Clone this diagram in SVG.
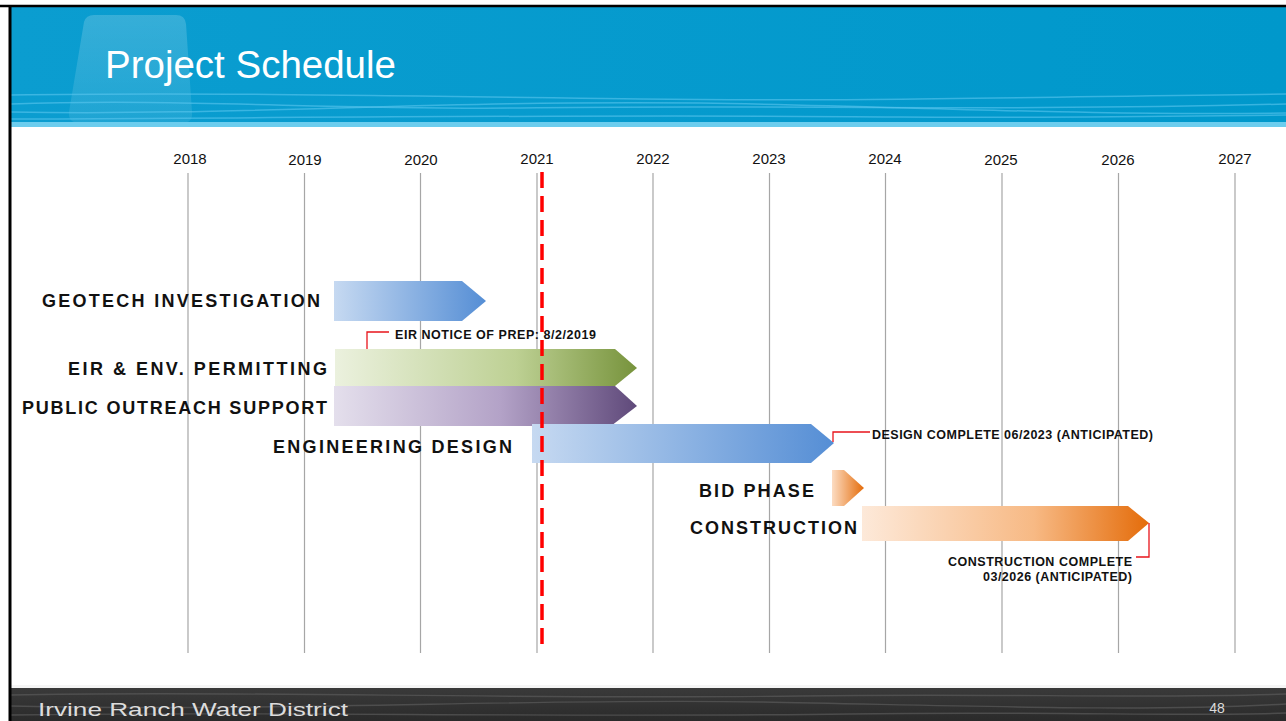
<svg xmlns="http://www.w3.org/2000/svg" width="1286" height="721" viewBox="0 0 1286 721">
  <defs>
    <linearGradient id="hdr" x1="0" y1="0" x2="1" y2="0">
      <stop offset="0" stop-color="#0b9dd0"/>
      <stop offset="1" stop-color="#0098cb"/>
    </linearGradient>
    <linearGradient id="ftr" x1="0" y1="0" x2="0" y2="1">
      <stop offset="0" stop-color="#3a3a3a"/>
      <stop offset="1" stop-color="#2a2a2a"/>
    </linearGradient>
    <linearGradient id="glass" x1="0" y1="0" x2="0" y2="1">
      <stop offset="0" stop-color="#ffffff" stop-opacity="0.18"/>
      <stop offset="1" stop-color="#ffffff" stop-opacity="0.08"/>
    </linearGradient>
    <linearGradient id="gBlue" x1="0" y1="0" x2="1" y2="0">
      <stop offset="0" stop-color="#c6d9f1"/>
      <stop offset="1" stop-color="#558ed5"/>
    </linearGradient>
    <linearGradient id="gGreen" x1="0" y1="0" x2="1" y2="0">
      <stop offset="0" stop-color="#ebf1de"/>
      <stop offset="0.6" stop-color="#bdd093"/>
      <stop offset="1" stop-color="#77933c"/>
    </linearGradient>
    <linearGradient id="gPurple" x1="0" y1="0" x2="1" y2="0">
      <stop offset="0" stop-color="#e4dfec"/>
      <stop offset="0.55" stop-color="#b3a2c7"/>
      <stop offset="1" stop-color="#5f497a"/>
    </linearGradient>
    <linearGradient id="gOrange" x1="0" y1="0" x2="1" y2="0">
      <stop offset="0" stop-color="#fde9d9"/>
      <stop offset="0.6" stop-color="#f7b984"/>
      <stop offset="1" stop-color="#e46c0a"/>
    </linearGradient>
    <linearGradient id="gBid" x1="0" y1="0" x2="1" y2="0">
      <stop offset="0" stop-color="#fcdcc2"/>
      <stop offset="1" stop-color="#e46c0a"/>
    </linearGradient>
    <style>
      .grid { stroke: #a6a6a6; stroke-width: 1.2; }
      .year { font-family: "Liberation Sans", Arial, sans-serif; font-size: 15px; fill: #111; text-anchor: middle; }
      .lbl { font-family: "Liberation Sans", Arial, sans-serif; font-size: 18px; font-weight: bold; fill: #111; }
      .note { font-family: "Liberation Sans", Arial, sans-serif; font-size: 12.5px; font-weight: bold; fill: #111; }
      .call { fill: none; stroke: #e8141b; stroke-width: 1.3; }
      .wave { fill: none; stroke: #5cc6ee; stroke-width: 1.5; opacity: 0.6; }
      .fwave { fill: none; stroke: #5a5a5a; stroke-width: 1.4; opacity: 0.7; }
    </style>
  </defs>

  <!-- background -->
  <rect x="0" y="0" width="1286" height="721" fill="#ffffff"/>

  <!-- header -->
  <g id="header">
    <rect x="11" y="7" width="1275" height="118" fill="url(#hdr)"/>
    <path d="M84,22 Q86,15 94,15 L176,15 Q185,15 186,24 L192,112 Q193,123 182,123 L80,123 Q68,123 69,112 Z" fill="url(#glass)"/>
    <path class="wave" d="M11,95 C200,92 420,96 640,99 C860,102 1080,96 1286,94"/>
    <path class="wave" d="M11,104 C180,98 330,110 520,108 C760,104 980,112 1286,104"/>
    <path class="wave" d="M11,112 C240,116 430,100 700,103 C900,106 1080,116 1286,113"/>
    <path class="wave" d="M11,119 C300,118 600,114 900,117 C1050,118 1180,116 1286,115" opacity="0.4"/>
    <rect x="11" y="122" width="1275" height="5" fill="#6ccdee"/>
    <text x="105" y="78" font-family="'Liberation Sans', Arial, sans-serif" font-size="38" fill="#ffffff" textLength="291" lengthAdjust="spacingAndGlyphs">Project Schedule</text>
  </g>

  <!-- footer -->
  <g id="footer">
    <rect x="11" y="685" width="1275" height="4" fill="#ececec" opacity="0.5"/>
    <rect x="11" y="688" width="1275" height="33" fill="url(#ftr)"/>
    <path class="fwave" d="M11,695 C250,690 500,700 800,696 C1000,693 1150,699 1286,694"/>
    <path class="fwave" d="M11,706 C300,712 520,698 760,702 C980,706 1140,712 1286,704"/>
    <path class="fwave" d="M11,715 C260,711 560,718 850,714 C1050,711 1200,717 1286,713"/>
    <text x="38" y="716" font-family="'Liberation Sans', Arial, sans-serif" font-size="19" fill="#dcdcdc" textLength="310" lengthAdjust="spacingAndGlyphs">Irvine Ranch Water District</text>
    <text x="1217" y="713" font-family="'Liberation Sans', Arial, sans-serif" font-size="14" fill="#dcdcdc" text-anchor="middle">48</text>
  </g>

  <!-- frame -->
  <line x1="0" y1="6" x2="1286" y2="6" stroke="#000" stroke-width="2.5"/>
  <line x1="10" y1="5" x2="10" y2="721" stroke="#000" stroke-width="3"/>

  <!-- timeline grid -->
  <g id="grid">
    <line class="grid" x1="188" y1="173" x2="188" y2="653"/>
    <line class="grid" x1="304.5" y1="173" x2="304.5" y2="653"/>
    <line class="grid" x1="420.5" y1="173" x2="420.5" y2="653"/>
    <line class="grid" x1="537" y1="173" x2="537" y2="653"/>
    <line class="grid" x1="653" y1="173" x2="653" y2="653"/>
    <line class="grid" x1="769.5" y1="173" x2="769.5" y2="653"/>
    <line class="grid" x1="885.5" y1="173" x2="885.5" y2="653"/>
    <line class="grid" x1="1002" y1="173" x2="1002" y2="653"/>
    <line class="grid" x1="1118.5" y1="173" x2="1118.5" y2="653"/>
    <line class="grid" x1="1235" y1="173" x2="1235" y2="653"/>
    <text class="year" x="190" y="164">2018</text>
    <text class="year" x="305" y="165">2019</text>
    <text class="year" x="421" y="165">2020</text>
    <text class="year" x="537" y="164">2021</text>
    <text class="year" x="653" y="164">2022</text>
    <text class="year" x="769" y="164">2023</text>
    <text class="year" x="885" y="164">2024</text>
    <text class="year" x="1001" y="165">2025</text>
    <text class="year" x="1118" y="165">2026</text>
    <text class="year" x="1235" y="164">2027</text>
  </g>

  <!-- tasks -->
  <g id="geotech">
    <polygon points="334,281 462,281 486,301 462,321 334,321" fill="url(#gBlue)"/>
    <text class="lbl" x="42" y="306.5" textLength="278">GEOTECH INVESTIGATION</text>
  </g>
  <g id="eir">
    <polygon points="335,349 615,349 637,368 615,386 335,386" fill="url(#gGreen)"/>
    <text class="lbl" x="68" y="375" textLength="259">EIR &amp; ENV. PERMITTING</text>
  </g>
  <g id="outreach">
    <polygon points="334,386 615,386 637,406 611,426 334,426" fill="url(#gPurple)"/>
    <text class="lbl" x="22" y="413.5" textLength="305">PUBLIC OUTREACH SUPPORT</text>
  </g>
  <g id="engineering">
    <polygon points="532,424 811,424 834,443 811,463 532,463" fill="url(#gBlue)"/>
    <text class="lbl" x="273" y="452.5" textLength="239">ENGINEERING DESIGN</text>
  </g>
  <g id="bid">
    <polygon points="832,470 844,470 864,488 844,506 832,506" fill="url(#gBid)"/>
    <text class="lbl" x="699" y="496.5" textLength="115">BID PHASE</text>
  </g>
  <g id="construction">
    <polygon points="862,506 1128,506 1149,523 1128,541 862,541" fill="url(#gOrange)"/>
    <text class="lbl" x="690" y="533.5" textLength="167">CONSTRUCTION</text>
  </g>

  <!-- today marker -->
  <line id="today" x1="542" y1="172" x2="542" y2="652" stroke="#ff0000" stroke-width="3.5" stroke-dasharray="16 8"/>

  <!-- callouts -->
  <g id="connectors">
    <polyline class="call" points="367,349 367,332 389,332"/>
    <polyline class="call" points="833,442 833,432 870,432"/>
    <polyline class="call" points="1149,523 1149,557 1136,557"/>
  </g>
  <g id="notes">
    <text class="note" x="395" y="338.5" textLength="201">EIR NOTICE OF PREP:  8/2/2019</text>
    <text class="note" x="872" y="438.5" textLength="281">DESIGN COMPLETE 06/2023 (ANTICIPATED)</text>
    <text class="note" x="948" y="565.5" textLength="184">CONSTRUCTION COMPLETE</text>
    <text class="note" x="983" y="581" textLength="149">03/2026 (ANTICIPATED)</text>
  </g>
</svg>
